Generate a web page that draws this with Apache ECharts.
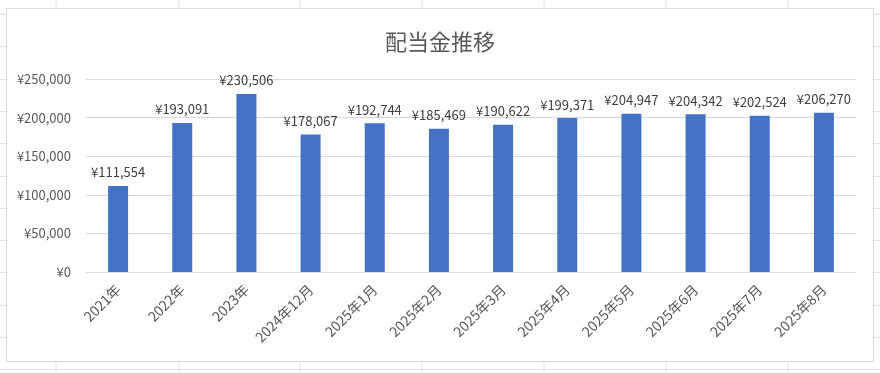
<!DOCTYPE html>
<html>
<head>
<meta charset="utf-8">
<script src="https://cdn.jsdelivr.net/npm/echarts@6/dist/echarts.min.js"></script>
<style>
html, body { margin: 0; padding: 0; background: #fff; }
#main { width: 880px; height: 373px; }
</style>
</head>
<body>
<div id="main"></div>
<script>
// 配当金データ
var categories = ['2021年', '2022年', '2023年', '2024年12月', '2025年1月', '2025年2月',
    '2025年3月', '2025年4月', '2025年5月', '2025年6月', '2025年7月', '2025年8月'];
var dividends = [111554, 193091, 230506, 178067, 192744, 185469,
    190622, 199371, 204947, 204342, 202524, 206270];
var yTicks = [0, 50000, 100000, 150000, 200000, 250000];

var font = '"Noto Sans CJK JP", "Noto Sans", sans-serif';

function yen(v) {
    return '¥' + v.toString().replace(/\B(?=(\d{3})+(?!\d))/g, ',');
}

// 背景のセル罫線
var bg = [];
[56, 179, 300, 422, 544, 666, 788].forEach(function (x) {
    bg.push({type: 'line', shape: {x1: x, y1: 0, x2: x, y2: 373}, style: {stroke: '#e2e2e2', lineWidth: 1}, z: -10});
});
for (var y = 14; y < 373; y += 32.3) {
    bg.push({type: 'line', shape: {x1: 0, y1: Math.round(y) + 0.5, x2: 880, y2: Math.round(y) + 0.5}, style: {stroke: '#e2e2e2', lineWidth: 1}, z: -10});
}
bg.push({type: 'rect', shape: {x: 6.5, y: 8.5, width: 867, height: 353}, style: {fill: '#fff', stroke: '#d9d9d9', lineWidth: 1}, z: -5});

var chart = echarts.init(document.getElementById('main'));
var option = {
    animation: false,
    graphic: bg,
    title: {
        text: '配当金推移',
        left: 'center',
        top: 26,
        textStyle: {fontFamily: font, fontSize: 22, fontWeight: 'normal', color: '#595959'}
    },
    grid: {left: 86, right: 24, top: 79, bottom: 101, containLabel: false},
    xAxis: {
        type: 'category',
        data: categories,
        axisLine: {lineStyle: {color: '#d9d9d9'}},
        axisTick: {show: false},
        axisLabel: {interval: 0, rotate: 45, margin: 15, fontFamily: font, fontSize: 14, color: '#595959'}
    },
    yAxis: {
        type: 'value',
        min: yTicks[0],
        max: yTicks[yTicks.length - 1],
        interval: 50000,
        axisLine: {show: false},
        axisTick: {show: false},
        splitLine: {lineStyle: {color: '#d9d9d9'}},
        axisLabel: {margin: 15, fontFamily: font, fontSize: 13, color: '#595959', formatter: yen}
    },
    series: [{
        type: 'bar',
        data: dividends,
        barWidth: 20,
        itemStyle: {color: '#4472C4'},
        label: {
            show: true,
            position: 'top',
            distance: 7,
            fontFamily: font,
            fontSize: 13,
            color: '#404040',
            formatter: function (p) { return yen(p.value); }
        }
    }]
};
chart.setOption(option);
</script>
</body>
</html>
